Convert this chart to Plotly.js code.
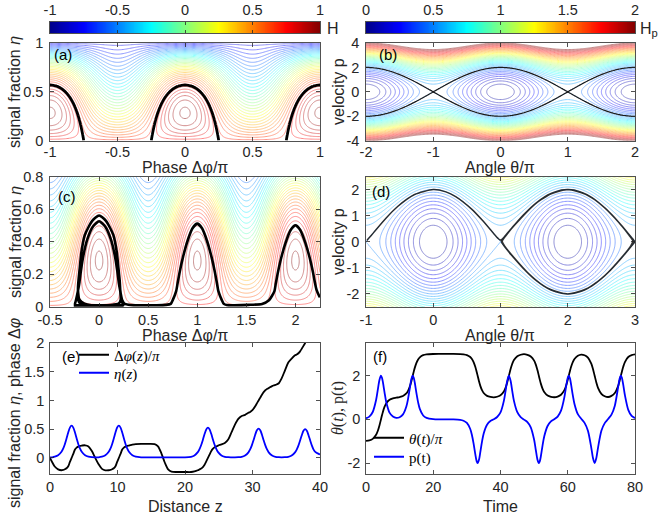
<!DOCTYPE html>
<html>
<head>
<meta charset="utf-8">
<script src="https://cdn.plot.ly/plotly-3.0.1.min.js"></script>
<style>
html,body{margin:0;padding:0;background:#ffffff;overflow:hidden;}
#chart{width:659px;height:519px;}
</style>
</head>
<body>
<div id="chart"></div>
<script>
// ===================== DATA =====================
// Panel (e): distance z, signal fraction eta(z), phase dphi(z)/pi
const zE = [0,0.35,0.7,1.2,1.7,1.95,2.2,2.45,2.7,2.95,
  3.2,3.45,3.7,3.95,4.2,4.45,4.7,5.2,5.7,6.2,
  6.7,7.2,7.7,8.2,8.7,8.95,9.2,9.45,9.7,9.95,
  10.2,10.45,10.7,10.95,11.2,11.45,11.7,12.2,12.7,13.5,
  14.5,15.5,16,16.5,17,17.5,18,19,20,20.9,
  21.4,21.9,22.15,22.4,22.65,22.9,23.15,23.4,23.65,23.9,
  24.15,24.4,24.65,24.9,25.4,25.9,26.4,26.9,27.4,27.9,
  28.4,28.9,29.4,29.65,29.9,30.15,30.4,30.65,30.9,31.15,
  31.4,31.65,31.9,32.15,32.4,32.9,33.4,33.9,34.3,34.8,
  35.3,35.8,36.3,36.55,36.8,37.05,37.3,37.55,37.8,38.05,
  38.3,38.55,38.8,39.05,39.3,39.8,40];
const etaE = [0.010,0.011,0.021,0.045,0.106,0.161,0.239,0.337,0.442,0.528,
  0.561,0.528,0.442,0.337,0.239,0.161,0.106,0.045,0.021,0.012,
  0.010,0.011,0.021,0.045,0.106,0.161,0.239,0.337,0.442,0.528,
  0.561,0.528,0.442,0.337,0.239,0.161,0.106,0.045,0.021,0.011,
  0.010,0.010,0.010,0.010,0.010,0.010,0.010,0.010,0.010,0.020,
  0.043,0.100,0.152,0.224,0.316,0.415,0.495,0.526,0.495,0.415,
  0.316,0.224,0.152,0.100,0.043,0.020,0.012,0.011,0.011,0.013,
  0.019,0.042,0.097,0.147,0.218,0.307,0.403,0.481,0.511,0.481,
  0.403,0.307,0.218,0.147,0.097,0.042,0.019,0.012,0.011,0.013,
  0.019,0.041,0.096,0.145,0.214,0.302,0.395,0.471,0.501,0.471,
  0.395,0.302,0.214,0.145,0.105,0.070,0.060];
const dphiE = [0,-0.08,-0.15,-0.2,-0.215,-0.21,-0.197,-0.18,-0.145,-0.07,
  0,0.07,0.145,0.18,0.197,0.21,0.215,0.22,0.2,0.12,
  0,-0.11,-0.19,-0.215,-0.215,-0.21,-0.197,-0.18,-0.145,-0.07,
  0,0.07,0.145,0.18,0.197,0.21,0.215,0.23,0.24,0.245,
  0.245,0.24,0.2,0.08,-0.08,-0.2,-0.24,-0.245,-0.245,-0.245,
  -0.235,-0.215,-0.2,-0.185,-0.16,-0.12,-0.06,0,0.06,0.12,
  0.16,0.185,0.2,0.215,0.235,0.26,0.32,0.45,0.58,0.68,
  0.73,0.75,0.785,0.8,0.822,0.855,0.9,0.95,1,1.05,
  1.1,1.145,1.178,1.2,1.215,1.25,1.27,1.3,1.38,1.52,
  1.66,1.73,1.785,1.8,1.822,1.855,1.9,1.95,2,2.05,
  2.1,2.145,2.178,2.2,2.215,2.24,2.25];

// Panel (f): time t, angle theta(t)/pi, velocity p(t)
const tF = [0,1,2,3,3.5,4,4.45,4.75,5,5.5,
  6,7,8,9,10,11,12,12.5,13,13.5,
  13.9,14.2,14.5,15,15.5,16,17,18,20,22,
  24,26,28,29,30,31,31.5,32,32.5,32.9,
  33.2,33.6,34,34.5,35,36,37,38,39,40,
  41,41.5,42,42.5,43,43.5,44,45,46,47,
  48,49,50,50.5,51,51.4,51.7,52,52.5,53,
  54,55,56,57,58,59,59.5,60,60.3,60.65,
  61,61.5,62,63,64,65,66,67,67.5,68,
  68.5,69,70,71,72,73,74,75,75.4,75.8,
  76.1,76.5,77,78,79,80];
const thetaF = [-0.986,-0.96,-0.89,-0.707,-0.53,-0.277,0,0.188,0.333,0.571,
  0.734,0.9,0.964,0.995,1.026,1.07,1.189,1.308,1.492,1.752,
  2,2.188,2.361,2.591,2.746,2.845,2.943,2.979,2.996,2.999,
  3,2.999,2.993,2.981,2.948,2.859,2.77,2.628,2.413,2.188,
  2,1.752,1.538,1.339,1.208,1.077,1.029,1.012,1.038,1.104,
  1.279,1.449,1.694,2,2.306,2.551,2.721,2.896,2.962,2.986,
  2.958,2.884,2.692,2.508,2.248,2,1.812,1.639,1.409,1.254,
  1.095,1.035,1.015,1.047,1.13,1.339,1.538,1.812,2,2.218,
  2.413,2.628,2.77,2.915,2.968,2.937,2.829,2.551,2.306,2,
  1.694,1.449,1.171,1.063,1.026,1.077,1.208,1.538,1.752,2,
  2.188,2.413,2.628,2.859,2.948,2.981];
const pF = [0.05,0.13,0.34,0.89,1.35,1.81,2,1.91,1.73,1.25,
  0.81,0.31,0.13,0.07,0.1,0.23,0.59,0.93,1.4,1.85,
  2,1.91,1.69,1.2,0.78,0.48,0.18,0.07,0.01,0,
  0,0,-0.02,-0.06,-0.16,-0.44,-0.71,-1.11,-1.59,-1.91,
  -2,-1.85,-1.5,-1.02,-0.64,-0.24,-0.07,0.01,0.11,0.32,
  0.85,1.3,1.77,2,1.77,1.3,0.85,0.33,0.1,-0.01,
  -0.12,-0.36,-0.93,-1.4,-1.85,-2,-1.91,-1.69,-1.2,-0.78,
  -0.3,-0.09,0.01,0.13,0.4,1.02,1.5,1.91,2,1.88,
  1.59,1.11,0.71,0.24,0.03,-0.16,-0.52,-1.3,-1.77,-2,
  -1.77,-1.3,-0.52,-0.17,0.02,0.22,0.63,1.5,1.85,2,
  1.91,1.59,1.11,0.44,0.16,0.06];

// Hamiltonian models behind the contour maps
const fwmParams = [0.72, 2.05, 0.754];   // H = a + b*(eta(1-eta)cos(2*pi*x) - c*eta^2)
const pendParams = [0.125, 0.25];        // Hp = a*p^2 + b*(1 - cos(pi*x))
const levelsH = [-1, 1, 0.05];
const levelsHp = [0, 2, 0.05];
const rangeH = [-1, 1];
const rangeHp = [0, 2];

// tick values
const ticksAx = [-1,-0.5,0,0.5,1],  ticksAy = [0,0.5,1];
const ticksBx = [-2,-1,0,1,2],      ticksBy = [-4,-2,0,2,4];
const ticksCx = [-0.5,0,0.5,1,1.5,2], ticksCy = [0,0.2,0.4,0.6,0.8];
const ticksDx = [-1,0,1,2,3],       ticksDy = [-2,-1,0,1,2];
const ticksEx = [0,10,20,30,40],    ticksEy = [0,0.5,1,1.5,2];
const ticksFx = [0,20,40,60,80],    ticksFy = [-2,0,2];
const ticksCbH = [-1,-0.5,0,0.5,1], ticksCbHp = [0,0.5,1,1.5,2];

// ===================== BUILD =====================
const W = 659, H = 519;
const FONT = 'Liberation Sans, Arial, Helvetica, sans-serif';
const SERIF = 'Liberation Serif, DejaVu Serif, Times New Roman, serif';
const INK = '#262626';
const fx = p => p / W;
const fy = p => 1 - p / H;

function linspace(a, b, n) { const r = []; for (let i = 0; i < n; i++) r.push(a + (b - a) * i / (n - 1)); return r; }
function fwmGrid(xs, ys) {
  return ys.map(eta => xs.map(x => fwmParams[0] + fwmParams[1] * (eta * (1 - eta) * Math.cos(2 * Math.PI * x) - fwmParams[2] * eta * eta)));
}
function pendGrid(xs, ys) {
  return ys.map(p => xs.map(x => pendParams[0] * p * p + pendParams[1] * (1 - Math.cos(Math.PI * x))));
}

const jet = [[0,'rgb(0,0,135)'],[0.125,'rgb(0,0,255)'],[0.375,'rgb(0,255,255)'],[0.625,'rgb(255,255,0)'],[0.875,'rgb(255,0,0)'],[1,'rgb(128,0,0)']];

function colorContour(xs, ys, z, xa, ya, lev, rng) {
  return {type:'contour', x:xs, y:ys, z:z, xaxis:xa, yaxis:ya, autocontour:false,
    contours:{start:lev[0], end:lev[1], size:lev[2], coloring:'lines'},
    colorscale:jet, zmin:rng[0], zmax:rng[1], zauto:false, showscale:false,
    line:{width:0.9, smoothing:0.8}, opacity:0.5, hoverinfo:'skip', showlegend:false};
}
function blackContour(xs, ys, z, xa, ya, level, width, color) {
  return {type:'contour', x:xs, y:ys, z:z, xaxis:xa, yaxis:ya, autocontour:false,
    contours:{start:level, end:level + 1e-6, size:1, coloring:'none'},
    showscale:false, line:{width:width, color:color, smoothing:0.8}, hoverinfo:'skip', showlegend:false};
}

// grids
const xA = linspace(-1, 1, 241), yA = linspace(0.002, 1, 160);
const zA = fwmGrid(xA, yA);
const xC = linspace(-0.5, 2.25, 276), yC = linspace(0.002, 0.8, 150);
const zC = fwmGrid(xC, yC);
const xB = linspace(-2, 2, 200), yB = linspace(-4, 4, 200);
const zB = pendGrid(xB, yB);
const xD = linspace(-1, 3, 200), yD = linspace(-2.5, 2.5, 160);
const zD = pendGrid(xD, yD);

// colour bar gradients
const cbX1 = linspace(rangeH[0], rangeH[1], 300);
const cbX2 = linspace(rangeHp[0], rangeHp[1], 300);

const traces = [
  colorContour(xA, yA, zA, 'x', 'y', levelsH, rangeH),
  blackContour(xA, yA, zA, 'x', 'y', fwmParams[0], 2.8, '#000000'),
  colorContour(xB, yB, zB, 'x2', 'y2', levelsHp, rangeHp),
  blackContour(xB, yB, zB, 'x2', 'y2', 0.5, 1.2, '#1a1a1a'),
  colorContour(xC, yC, zC, 'x3', 'y3', levelsH, rangeH),
  {type:'scatter', mode:'lines', x:dphiE, y:etaE, xaxis:'x3', yaxis:'y3', cliponaxis:true,
   line:{color:'#000000', width:2.6, shape:'spline', smoothing:0.6}, hoverinfo:'skip', showlegend:false},
  colorContour(xD, yD, zD, 'x4', 'y4', levelsHp, rangeHp),
  {type:'scatter', mode:'lines', x:thetaF, y:pF, xaxis:'x4', yaxis:'y4',
   line:{color:'rgba(0,0,0,0.8)', width:1.5, shape:'spline', smoothing:0.6}, hoverinfo:'skip', showlegend:false},
  {type:'scatter', mode:'lines', x:zE, y:dphiE, xaxis:'x5', yaxis:'y5', name:'Δ<i>φ</i>(<i>z</i>)/<i>π</i>', legend:'legend',
   line:{color:'#000000', width:1.8, shape:'spline', smoothing:0.8}, hoverinfo:'skip'},
  {type:'scatter', mode:'lines', x:zE, y:etaE, xaxis:'x5', yaxis:'y5', name:'<i>η</i>(<i>z</i>)', legend:'legend2',
   line:{color:'#0000ff', width:1.8, shape:'spline', smoothing:0.8}, hoverinfo:'skip'},
  {type:'scatter', mode:'lines', x:tF, y:thetaF, xaxis:'x6', yaxis:'y6', name:'<i>θ</i>(<i>t</i>)/<i>π</i>', legend:'legend3',
   line:{color:'#000000', width:1.8, shape:'spline', smoothing:0.8}, hoverinfo:'skip'},
  {type:'scatter', mode:'lines', x:tF, y:pF, xaxis:'x6', yaxis:'y6', name:'p(t)', legend:'legend4',
   line:{color:'#0000ff', width:1.8, shape:'spline', smoothing:0.8}, hoverinfo:'skip'},
  {type:'heatmap', x:cbX1, y:[0], z:[cbX1], xaxis:'x7', yaxis:'y7', colorscale:jet, zmin:rangeH[0], zmax:rangeH[1],
   showscale:false, hoverinfo:'skip', showlegend:false},
  {type:'heatmap', x:cbX2, y:[0], z:[cbX2], xaxis:'x8', yaxis:'y8', colorscale:jet, zmin:rangeHp[0], zmax:rangeHp[1],
   showscale:false, hoverinfo:'skip', showlegend:false}
];

function ax(dom, rng, ticks, extra) {
  return Object.assign({domain:dom, range:rng, tickmode:'array', tickvals:ticks, ticktext:ticks.map(String),
    ticks:'inside', ticklen:4, tickwidth:0.8, tickcolor:INK, showline:true, linecolor:INK, linewidth:0.8,
    mirror:'allticks', showgrid:false, zeroline:false, fixedrange:true,
    tickfont:{family:FONT, size:14.5, color:INK}}, extra || {});
}
function leg(px, py) {
  return {x:fx(px), y:fy(py), xanchor:'left', yanchor:'middle', bgcolor:'rgba(0,0,0,0)', borderwidth:0,
    font:{family:SERIF, size:15, color:'#000000'}, tracegroupgap:0, itemwidth:30};
}

const colL = [fx(50), fx(320)], colR = [fx(366), fx(635)];
const row1 = [fy(140.7), fy(43)], row2 = [fy(307), fy(176.5)], row3 = [fy(474), fy(343)];
const rowCb = [fy(33), fy(22)];

const layout = {
  width:W, height:H, margin:{l:0, r:0, t:0, b:0}, paper_bgcolor:'#ffffff', plot_bgcolor:'#ffffff',
  font:{family:FONT, color:INK},
  xaxis: ax(colL, [-1, 1], ticksAx, {anchor:'y', ticklabelstandoff:-2}),
  yaxis: ax(row1, [0, 1], ticksAy, {anchor:'x', ticklabelstandoff:3}),
  xaxis2: ax(colR, [-2, 2], ticksBx, {anchor:'y2', ticklabelstandoff:-2}),
  yaxis2: ax(row1, [-4, 4], ticksBy, {anchor:'x2', ticklabelstandoff:3}),
  xaxis3: ax(colL, [-0.5, 2.25], ticksCx, {anchor:'y3'}),
  yaxis3: ax(row2, [0, 0.8], ticksCy, {anchor:'x3', ticklabelstandoff:3}),
  xaxis4: ax(colR, [-1, 3], ticksDx, {anchor:'y4'}),
  yaxis4: ax(row2, [-2.5, 2.5], ticksDy, {anchor:'x4', ticklabelstandoff:3}),
  xaxis5: ax(colL, [0, 40], ticksEx, {anchor:'y5'}),
  yaxis5: ax(row3, [-0.28, 2], ticksEy, {anchor:'x5', ticklabelstandoff:2}),
  xaxis6: ax(colR, [0, 80], ticksFx, {anchor:'y6'}),
  yaxis6: ax(row3, [-2.5, 3.5], ticksFy, {anchor:'x6', ticklabelstandoff:2}),
  xaxis7: ax(colL, rangeH, ticksCbH, {anchor:'y7', side:'top', ticklen:3}),
  yaxis7: ax(rowCb, [-0.5, 0.5], [], {anchor:'x7', showticklabels:false, ticks:''}),
  xaxis8: ax(colR, rangeHp, ticksCbHp, {anchor:'y8', side:'top', ticklen:3}),
  yaxis8: ax(rowCb, [-0.5, 0.5], [], {anchor:'x8', showticklabels:false, ticks:''}),
  legend: leg(74, 355),
  legend2: leg(74, 373),
  legend3: leg(369, 438),
  legend4: leg(369, 457),
  annotations: []
};

function note(text, px, py, opts) {
  layout.annotations.push(Object.assign({text:text, x:fx(px), y:fy(py), xref:'paper', yref:'paper',
    showarrow:false, xanchor:'center', yanchor:'middle', font:{family:FONT, size:16, color:INK}}, opts || {}));
}
// axis titles
note('Phase Δφ/π', 185, 167.5);
note('Angle θ/π', 500, 167.5);
note('Phase Δφ/π', 185, 335.5);
note('Angle θ/π', 500, 335.5);
note('Distance z', 185, 506);
note('Time', 500, 506);
note('signal fraction <i>η</i>', 14, 92, {textangle:-90});
note('velocity p', 338, 92, {textangle:-90});
note('signal fraction <i>η</i>', 15, 242, {textangle:-90});
note('velocity p', 338, 242, {textangle:-90});
note('signal fraction <i>η</i>, phase Δ<i>φ</i>', 14, 413, {textangle:-90});
note('<i>θ</i>(<i>t</i>), p(t)', 338, 408, {textangle:-90, font:{family:SERIF, size:16, color:INK}});
// colour bar titles
note('H', 325, 29, {xanchor:'left'});
note('H<sub>p</sub>', 638, 30, {xanchor:'left'});
// panel labels
const lab = {family:FONT, size:15, color:'#000000'};
note('(a)', 63, 55, {font:lab});
note('(b)', 388, 55, {font:lab});
note('(c)', 67, 196, {font:lab});
note('(d)', 381, 191, {font:lab});
note('(e)', 71, 356, {font:lab});
note('(f)', 380, 356, {font:lab});

Plotly.newPlot('chart', traces, layout, {staticPlot:true, displayModeBar:false});
</script>
</body>
</html>
